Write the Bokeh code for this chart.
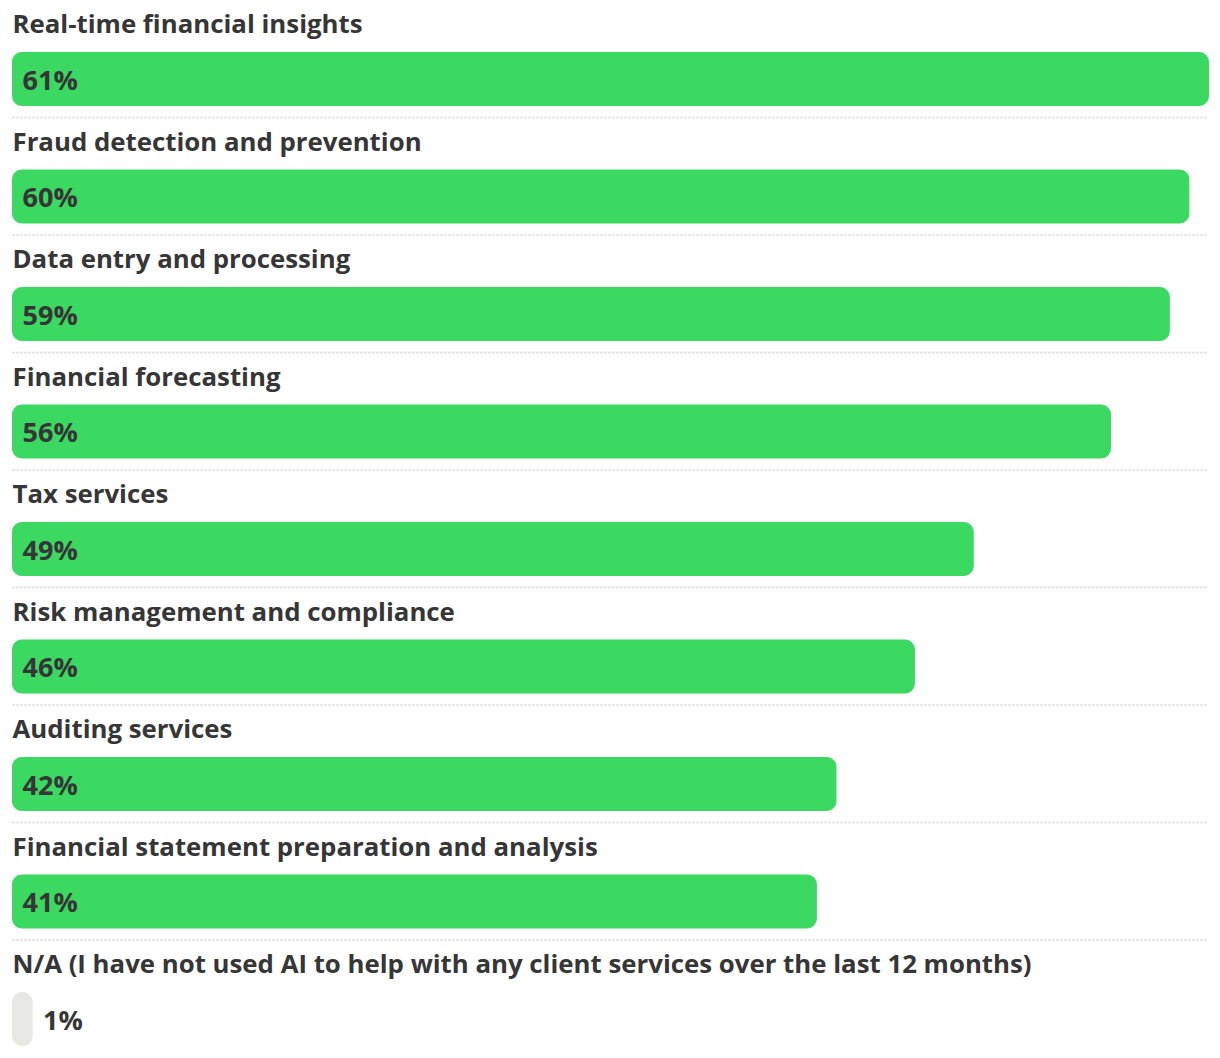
from bokeh.plotting import figure
from bokeh.models import Range1d, ColumnDataSource
from bokeh.core.properties import value
from bokeh.embed import file_html
from bokeh.resources import INLINE

categories = [
    "Real-time financial insights",
    "Fraud detection and prevention",
    "Data entry and processing",
    "Financial forecasting",
    "Tax services",
    "Risk management and compliance",
    "Auditing services",
    "Financial statement preparation and analysis",
    "N/A (I have not used AI to help with any client services over the last 12 months)",
]
values = [61, 60, 59, 56, 49, 46, 42, 41, 1]
is_na = [False] * 8 + [True]

W, H = 1212, 1050
ROW = 117.5
LEFT = 12
px_per_pct = 1196 / 61.0
x0 = -LEFT / px_per_pct
x1 = (W - LEFT) / px_per_pct

p = figure(width=W, height=H, x_range=Range1d(x0, x1), y_range=Range1d(H, 0),
           output_backend="svg", toolbar_location=None, min_border=0)
p.axis.visible = False
p.grid.visible = False
p.outline_line_color = None
p.background_fill_color = "white"

n = len(categories)
bar_center = [78.5 + i * ROW for i in range(n)]
label_y = [22.5 + i * ROW for i in range(n)]
pct_y = [78.5 + i * ROW for i in range(n)]
sep_y = [117 + i * ROW for i in range(n - 1)]
colors = ["#E8E8E2" if na else "#3BD961" for na in is_na]

FONT = value("Open Sans")
TC = "#363636"

src = ColumnDataSource(dict(cat=categories, val=values, y=bar_center, ly=label_y,
                            color=colors))

p.hbar(y="y", left=0, right="val", height=53, color="color", source=src,
       border_radius=9)

for sy in sep_y:
    p.line([0, values[0]], [sy, sy], line_color="#D3D3D3", line_width=1.5,
           line_dash="2 2")

p.text(x=0, y="ly", text="cat", source=src, text_font=FONT,
       text_font_style="bold", text_font_size="25.8px", text_color=TC,
       text_baseline="middle", text_align="left", x_offset=0)

pct = [f"{v}%" for v in values]
inside = dict(x=[0 for na in is_na if not na],
              y=[y for y, na in zip(pct_y, is_na) if not na],
              t=[t for t, na in zip(pct, is_na) if not na])
outside = dict(x=[v for v, na in zip(values, is_na) if na],
               y=[y for y, na in zip(pct_y, is_na) if na],
               t=[t for t, na in zip(pct, is_na) if na])

p.text(x=inside["x"], y=inside["y"], text=inside["t"], text_font=FONT,
       text_font_style="bold", text_font_size="27px", text_color=TC,
       text_baseline="middle", text_align="left", x_offset=10)
p.text(x=outside["x"], y=outside["y"], text=outside["t"], text_font=FONT,
       text_font_style="bold", text_font_size="27px", text_color=TC,
       text_baseline="middle", text_align="left", x_offset=11)

open("out.html", "w").write(file_html(p, INLINE))
